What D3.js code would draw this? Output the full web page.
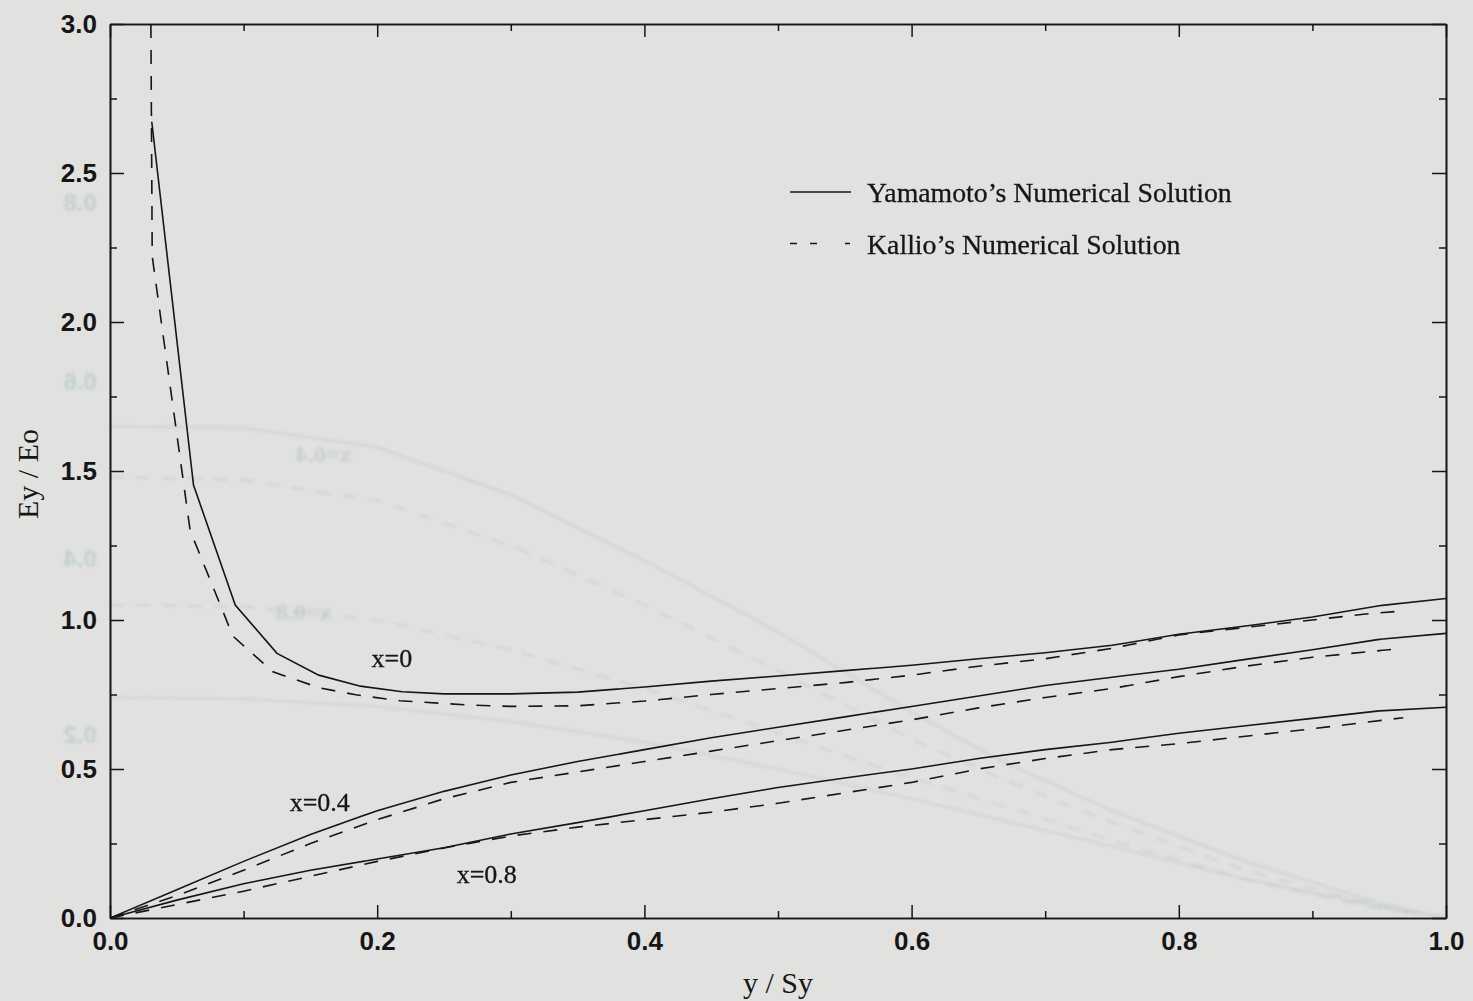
<!DOCTYPE html>
<html>
<head>
<meta charset="utf-8">
<script src="https://cdn.jsdelivr.net/npm/d3@7"></script>
<style>
  html, body { margin: 0; padding: 0; background: #e1e1df; }
  svg { display: block; }
</style>
</head>
<body>
<svg id="chart" width="1473" height="1001"></svg>
<script>
// Normalised field Ey/Eo against y/Sy, at three positions x across the section.

// Yamamoto's numerical solution (solid)
const yamX0Pos  = [0.03125, 0.0625, 0.09375, 0.125, 0.15625, 0.1875, 0.21875, 0.25, 0.3, 0.35, 0.4, 0.45, 0.5, 0.55, 0.6, 0.65, 0.7, 0.75, 0.8, 0.85, 0.9, 0.95, 1.0];
const yamX0Val  = [2.672, 1.453, 1.05, 0.888, 0.815, 0.778, 0.759, 0.752, 0.752, 0.758, 0.775, 0.795, 0.812, 0.83, 0.848, 0.87, 0.89, 0.915, 0.952, 0.98, 1.01, 1.048, 1.072];

const yamX04Pos = [0, 0.05, 0.1, 0.15, 0.2, 0.25, 0.3, 0.35, 0.4, 0.45, 0.5, 0.55, 0.6, 0.65, 0.7, 0.75, 0.8, 0.85, 0.9, 0.95, 1.0];
const yamX04Val = [0, 0.095, 0.19, 0.28, 0.36, 0.425, 0.48, 0.525, 0.565, 0.605, 0.64, 0.675, 0.71, 0.745, 0.78, 0.808, 0.835, 0.868, 0.9, 0.935, 0.955];

const yamX08Pos = [0, 0.05, 0.1, 0.15, 0.2, 0.25, 0.3, 0.35, 0.4, 0.45, 0.5, 0.55, 0.6, 0.65, 0.7, 0.75, 0.8, 0.85, 0.9, 0.95, 1.0];
const yamX08Val = [0, 0.06, 0.115, 0.16, 0.198, 0.236, 0.282, 0.32, 0.36, 0.40, 0.438, 0.47, 0.5, 0.535, 0.565, 0.59, 0.62, 0.645, 0.67, 0.695, 0.707];

// Kallio's numerical solution (dashed)
const kalX0Pos  = [0.0306, 0.0316, 0.060, 0.092, 0.122, 0.157, 0.184, 0.217, 0.267, 0.3, 0.35, 0.4, 0.45, 0.5, 0.55, 0.6, 0.65, 0.7, 0.75, 0.8, 0.85, 0.9, 0.94, 0.969];
const kalX0Val  = [3.0, 2.22, 1.30, 0.946, 0.826, 0.772, 0.749, 0.729, 0.715, 0.71, 0.712, 0.728, 0.75, 0.77, 0.79, 0.815, 0.845, 0.87, 0.905, 0.95, 0.975, 1.0, 1.02, 1.031];

const kalX04Pos = [0, 0.05, 0.1, 0.15, 0.2, 0.25, 0.3, 0.35, 0.4, 0.45, 0.5, 0.55, 0.6, 0.65, 0.7, 0.75, 0.8, 0.85, 0.9, 0.963];
const kalX04Val = [0, 0.075, 0.16, 0.25, 0.33, 0.40, 0.455, 0.49, 0.525, 0.56, 0.595, 0.63, 0.665, 0.705, 0.74, 0.77, 0.81, 0.845, 0.875, 0.903];

const kalX08Pos = [0, 0.05, 0.1, 0.15, 0.2, 0.25, 0.3, 0.35, 0.4, 0.45, 0.5, 0.55, 0.6, 0.65, 0.7, 0.75, 0.8, 0.85, 0.9, 0.968];
const kalX08Val = [0, 0.045, 0.09, 0.14, 0.19, 0.235, 0.275, 0.305, 0.33, 0.355, 0.385, 0.42, 0.455, 0.5, 0.535, 0.565, 0.585, 0.61, 0.635, 0.672];

// Faint curves printed on the reverse of the sheet, seen through the paper
const backSolidAPos = [0, 0.1, 0.2, 0.3, 0.4, 0.5, 0.6, 0.666, 0.75, 0.85, 0.95, 1.0];
const backSolidAVal = [1.65, 1.645, 1.58, 1.42, 1.2, 0.96, 0.69, 0.53, 0.36, 0.19, 0.05, 0.0];
const backDashAPos  = [0, 0.1, 0.2, 0.3, 0.4, 0.5, 0.6, 0.666, 0.75, 0.85, 0.95, 0.98];
const backDashAVal  = [1.48, 1.47, 1.4, 1.25, 1.05, 0.83, 0.6, 0.47, 0.32, 0.16, 0.04, 0.01];
const backDashBPos  = [0, 0.1, 0.2, 0.3, 0.4, 0.5, 0.6, 0.666, 0.75, 0.85, 0.95, 0.98];
const backDashBVal  = [1.05, 1.045, 1.0, 0.9, 0.77, 0.62, 0.47, 0.38, 0.26, 0.13, 0.03, 0.01];
const backSolidBPos = [0, 0.1, 0.2, 0.3, 0.4, 0.5, 0.6, 0.666, 0.75, 0.85, 0.95, 1.0];
const backSolidBVal = [0.74, 0.735, 0.71, 0.66, 0.59, 0.5, 0.4, 0.33, 0.24, 0.13, 0.04, 0.0];

// Axis ticks
const xMajorTicks = [0, 0.2, 0.4, 0.6, 0.8, 1.0];
const xMinorTicks = [0.1, 0.3, 0.5, 0.7, 0.9];
const yMajorTicks = [0, 0.5, 1.0, 1.5, 2.0, 2.5, 3.0];
const yMinorTicks = [0.25, 0.75, 1.25, 1.75, 2.25, 2.75];

// Curve annotations: text, y/Sy of centre, Ey/Eo of baseline
const curveLabels = ["x=0", "x=0.4", "x=0.8"];
const curveLabelPos = [0.211, 0.157, 0.282];
const curveLabelVal = [0.842, 0.359, 0.117];

const legendNames = ["Yamamoto\u2019s Numerical Solution", "Kallio\u2019s Numerical Solution"];

const zip = (xs, vs) => xs.map((v, i) => [v, vs[i]]);

const svg = d3.select("#chart");
const W = 1473, H = 1001;
const plotL = 110, plotR = 1446, plotT = 24, plotB = 918;

const x = d3.scaleLinear().domain([0, 1]).range([plotL, plotR]);
const y = d3.scaleLinear().domain([0, 3]).range([plotB, plotT]);

svg.append("rect").attr("width", W).attr("height", H).attr("fill", "#e1e1df");

const defs = svg.append("defs");
defs.append("clipPath").attr("id", "plot-clip")
  .append("rect").attr("x", plotL).attr("y", plotT)
  .attr("width", plotR - plotL).attr("height", plotB - plotT);
defs.append("filter").attr("id", "soft")
  .append("feGaussianBlur").attr("stdDeviation", 1.6);

const ink = "#161616";
const tickFont = "'Liberation Sans', Arial, Helvetica, sans-serif";
const serif = "'Liberation Serif', 'Times New Roman', Times, serif";

// reverse-side show-through
const ghost = svg.append("g").attr("clip-path", "url(#plot-clip)")
  .attr("filter", "url(#soft)").attr("fill", "none")
  .attr("stroke", "#b9c3c9").attr("stroke-opacity", 0.45).attr("stroke-width", 2.2);
const line = d3.line().x(d => x(d[0])).y(d => y(d[1]));
ghost.append("path").attr("d", line(zip(backSolidAPos, backSolidAVal)));
ghost.append("path").attr("d", line(zip(backDashAPos, backDashAVal))).attr("stroke-dasharray", "14 12");
ghost.append("path").attr("d", line(zip(backDashBPos, backDashBVal))).attr("stroke-dasharray", "14 12");
ghost.append("path").attr("d", line(zip(backSolidBPos, backSolidBVal)));

const ghostText = svg.append("g").attr("filter", "url(#soft)")
  .attr("fill", "#aebfc2").attr("fill-opacity", 0.5)
  .attr("font-family", serif).attr("font-weight", "bold").attr("font-size", 24);
[["x=0.4", 0.16, 1.53], ["x=0.8", 0.145, 1.0]].forEach(([t, px, pv]) => {
  ghostText.append("text")
    .attr("transform", `translate(${x(px)},${y(pv)}) scale(-1,1)`)
    .attr("text-anchor", "middle").text(t);
});
const ghostNums = svg.append("g").attr("filter", "url(#soft)")
  .attr("fill", "#a9c0c4").attr("fill-opacity", 0.55)
  .attr("font-family", tickFont).attr("font-weight", "bold").attr("font-size", 24);
[["0.8", 2.4], ["0.6", 1.8], ["0.4", 1.205], ["0.2", 0.615]].forEach(([t, pv]) => {
  ghostNums.append("text")
    .attr("transform", `translate(${x(0) - 30},${y(pv)}) scale(-1,1)`)
    .attr("text-anchor", "middle").attr("dy", "0.35em").text(t);
});

// axes: ticks point into the plot on all four sides
function styleAxis(g) {
  g.select(".domain").attr("stroke", ink).attr("stroke-width", 1.6);
  g.selectAll(".tick line").attr("stroke", ink).attr("stroke-width", 1.5);
  g.selectAll("text").attr("fill", ink)
    .attr("font-family", tickFont).attr("font-weight", "bold").attr("font-size", 26);
}
const fmt = d3.format(".1f");

svg.append("g").attr("transform", `translate(0,${plotB})`)
  .call(d3.axisBottom(x).tickValues(xMajorTicks).tickFormat(fmt).tickSizeInner(-13).tickSizeOuter(0).tickPadding(14))
  .call(styleAxis);
svg.append("g").attr("transform", `translate(0,${plotB})`)
  .call(d3.axisBottom(x).tickValues(xMinorTicks).tickFormat("").tickSizeInner(-7).tickSizeOuter(0))
  .call(styleAxis);

svg.append("g").attr("transform", `translate(0,${plotT})`)
  .call(d3.axisTop(x).tickValues(xMajorTicks).tickFormat("").tickSizeInner(-13).tickSizeOuter(0))
  .call(styleAxis);
svg.append("g").attr("transform", `translate(0,${plotT})`)
  .call(d3.axisTop(x).tickValues(xMinorTicks).tickFormat("").tickSizeInner(-7).tickSizeOuter(0))
  .call(styleAxis);

svg.append("g").attr("transform", `translate(${plotL},0)`)
  .call(d3.axisLeft(y).tickValues(yMajorTicks).tickFormat(fmt).tickSizeInner(-14).tickSizeOuter(0).tickPadding(13))
  .call(styleAxis);
svg.append("g").attr("transform", `translate(${plotL},0)`)
  .call(d3.axisLeft(y).tickValues(yMinorTicks).tickFormat("").tickSizeInner(-7).tickSizeOuter(0))
  .call(styleAxis);

svg.append("g").attr("transform", `translate(${plotR},0)`)
  .call(d3.axisRight(y).tickValues(yMajorTicks).tickFormat("").tickSizeInner(-14).tickSizeOuter(0))
  .call(styleAxis);
svg.append("g").attr("transform", `translate(${plotR},0)`)
  .call(d3.axisRight(y).tickValues(yMinorTicks).tickFormat("").tickSizeInner(-7).tickSizeOuter(0))
  .call(styleAxis);

// axis titles
svg.append("text").attr("x", 778).attr("y", 993)
  .attr("text-anchor", "middle").attr("font-family", serif).attr("font-size", 30)
  .attr("fill", ink).text("y / Sy");
svg.append("text").attr("transform", `translate(38,${y(1.49)}) rotate(-90)`)
  .attr("text-anchor", "middle").attr("font-family", serif).attr("font-size", 30)
  .attr("fill", ink).text("Ey / Eo");

// curves
const curves = svg.append("g").attr("clip-path", "url(#plot-clip)")
  .attr("fill", "none").attr("stroke", ink).attr("stroke-width", 1.6);
[[yamX0Pos, yamX0Val], [yamX04Pos, yamX04Val], [yamX08Pos, yamX08Val]].forEach(([p, v]) => {
  curves.append("path").attr("d", line(zip(p, v)));
});
[[kalX0Pos, kalX0Val], [kalX04Pos, kalX04Val], [kalX08Pos, kalX08Val]].forEach(([p, v]) => {
  curves.append("path").attr("d", line(zip(p, v))).attr("stroke-dasharray", "14 12");
});

// curve annotations
curveLabels.forEach((t, i) => {
  svg.append("text").attr("x", x(curveLabelPos[i])).attr("y", y(curveLabelVal[i]))
    .attr("text-anchor", "middle").attr("font-family", serif).attr("font-size", 26)
    .attr("fill", ink).attr("stroke", ink).attr("stroke-width", 0.3).text(t);
});

// legend
const legend = svg.append("g").attr("transform", "translate(790,192)");
legendNames.forEach((name, i) => {
  const gy = i * 51.5;
  legend.append("line").attr("x1", 0).attr("x2", 61).attr("y1", gy).attr("y2", gy)
    .attr("stroke", ink).attr("stroke-width", 1.5)
    .attr("stroke-dasharray", i === 1 ? "7 13 7 28 5" : null);
  legend.append("text").attr("x", 77).attr("y", gy + 10)
    .attr("font-family", serif).attr("font-size", 27.8).attr("fill", ink)
    .attr("stroke", ink).attr("stroke-width", 0.3).text(name);
});
</script>
</body>
</html>
